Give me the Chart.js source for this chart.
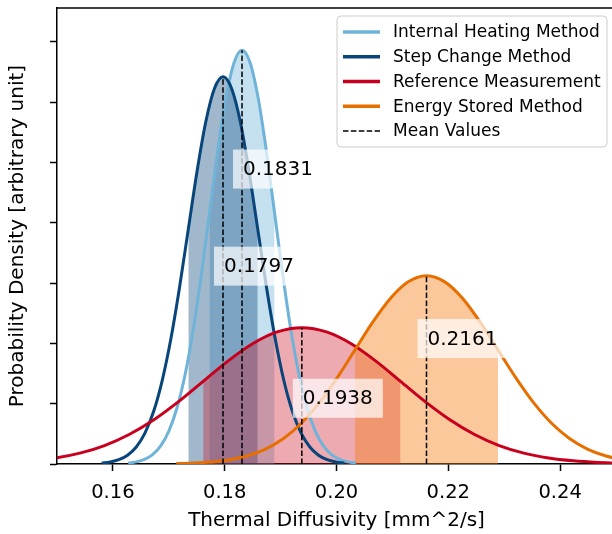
<!DOCTYPE html>
<html>
<head>
<meta charset="utf-8">
<script src="https://cdn.jsdelivr.net/npm/chart.js@4.4.1/dist/chart.umd.min.js"></script>
<style>
html, body { margin: 0; padding: 0; overflow: hidden; background: #fff; }
</style>
</head>
<body>
<canvas id="myChart-diffusivity" width="620" height="534"></canvas>
<script>
// methods, colours and means
const methods = ['Internal Heating Method', 'Step Change Method', 'Reference Measurement', 'Energy Stored Method'];
const lineColors = ['#6fb3d9', '#08457a', '#c8001e', '#e66f00'];
const fillColors = ['rgba(111,179,217,0.4)', 'rgba(8,69,122,0.38)', 'rgba(205,20,40,0.36)', 'rgba(245,125,20,0.42)'];
const means = [0.1831, 0.1797, 0.1938, 0.2161];
const meanLabels = ['0.1831', '0.1797', '0.1938', '0.2161'];
const labelHeights = [48.9, 32.8, 10.9, 20.8];

// shaded band (mean +/- one std)
const bandLow = [0.17728, 0.17349, 0.17615, 0.20331];
const bandHigh = [0.18892, 0.18591, 0.21145, 0.22889];

// curves
const xInternal = [0.16273, 0.16419, 0.16564, 0.16710, 0.16855, 0.17001, 0.17146, 0.17292, 0.17437, 0.17583,
  0.17728, 0.17874, 0.18019, 0.18165, 0.18310, 0.18456, 0.18601, 0.18747, 0.18892, 0.19038,
  0.19183, 0.19329, 0.19474, 0.19620, 0.19765, 0.19911, 0.20056, 0.20202, 0.20347];
const yInternal = [0.15, 0.35, 0.76, 1.56, 3.01, 5.46, 9.28, 14.84, 22.27, 31.41,
  41.61, 51.78, 60.54, 66.49, 68.6, 66.49, 60.54, 51.78, 41.61, 31.41,
  22.27, 14.84, 9.28, 5.46, 3.01, 1.56, 0.76, 0.35, 0.15];

const xStep = [0.15797, 0.15952, 0.16107, 0.16262, 0.16418, 0.16573, 0.16728, 0.16883, 0.17039, 0.17194,
  0.17349, 0.17504, 0.17660, 0.17815, 0.17970, 0.18125, 0.18281, 0.18436, 0.18591, 0.18746,
  0.18902, 0.19057, 0.19212, 0.19367, 0.19523, 0.19678, 0.19833, 0.19988, 0.20144];
const yStep = [0.14, 0.33, 0.71, 1.46, 2.82, 5.11, 8.69, 13.88, 20.84, 29.39,
  38.94, 48.46, 56.66, 62.22, 64.2, 62.22, 56.66, 48.46, 38.94, 29.39,
  20.84, 13.88, 8.69, 5.11, 2.82, 1.46, 0.71, 0.33, 0.14];

const xReference = [0.13203, 0.13644, 0.14085, 0.14526, 0.14968, 0.15409, 0.15850, 0.16291, 0.16733, 0.17174,
  0.17615, 0.18056, 0.18498, 0.18939, 0.19380, 0.19821, 0.20263, 0.20704, 0.21145, 0.21586,
  0.22028, 0.22469, 0.22910, 0.23351, 0.23793, 0.24234, 0.24675, 0.25116, 0.25558];
const yReference = [0.05, 0.11, 0.25, 0.52, 0.99, 1.80, 3.06, 4.89, 7.34, 10.35,
  13.71, 17.06, 19.94, 21.90, 22.6, 21.90, 19.94, 17.06, 13.71, 10.35,
  7.34, 4.89, 3.06, 1.80, 0.99, 0.52, 0.25, 0.11, 0.05];

const xEnergy = [0.17134, 0.17453, 0.17773, 0.18093, 0.18413, 0.18732, 0.19052, 0.19372, 0.19692, 0.20011,
  0.20331, 0.20651, 0.20971, 0.21290, 0.21610, 0.21930, 0.22250, 0.22569, 0.22889, 0.23209,
  0.23529, 0.23848, 0.24168, 0.24488, 0.24808, 0.25127, 0.25447, 0.25767, 0.26087];
const yEnergy = [0.07, 0.16, 0.35, 0.71, 1.37, 2.48, 4.22, 6.75, 10.13, 14.28,
  18.92, 23.55, 27.53, 30.24, 31.2, 30.24, 27.53, 23.55, 18.92, 14.28,
  10.13, 6.75, 4.22, 2.48, 1.37, 0.71, 0.35, 0.16, 0.07];

const xTicks = [0.16, 0.18, 0.20, 0.22, 0.24];
const yTicks = [0, 10, 20, 30, 40, 50, 60, 70];

const curvesX = [xInternal, xStep, xReference, xEnergy];
const curvesY = [yInternal, yStep, yReference, yEnergy];

Chart.defaults.font.family = "'DejaVu Sans', sans-serif";
Chart.defaults.color = '#000';

// fills under every line, later methods drawn over earlier ones
const datasets = [];
curvesX.forEach((xs, i) => {
  const pts = xs.map((x, j) => ({ x: x, y: curvesY[i][j] }));
  datasets.push({
    label: methods[i],
    data: pts,
    borderColor: lineColors[i],
    borderWidth: 3,
    pointRadius: 0,
    cubicInterpolationMode: 'monotone',
    fill: false,
    order: 10 - i
  });
  datasets.push({
    label: methods[i] + ' band',
    data: pts.filter(p => p.x >= bandLow[i] - 1e-7 && p.x <= bandHigh[i] + 1e-7),
    borderWidth: 0,
    borderColor: 'rgba(0,0,0,0)',
    backgroundColor: fillColors[i],
    pointRadius: 0,
    cubicInterpolationMode: 'monotone',
    fill: 'origin',
    order: 20 - i
  });
  datasets.push({
    label: 'Mean Values',
    data: [{ x: means[i], y: 0 }, { x: means[i], y: Math.max(...curvesY[i]) }],
    borderColor: '#000',
    borderWidth: 1.5,
    borderDash: [5.5, 2.4],
    pointRadius: 0,
    fill: false,
    order: 0
  });
});

// frame, mean labels and legend
const decorations = {
  id: 'decorations',
  afterDatasetsDraw(chart) {
    const ctx = chart.ctx;
    const a = chart.chartArea;
    const xs = chart.scales.x, ys = chart.scales.y;
    ctx.save();
    ctx.strokeStyle = '#000';
    ctx.lineWidth = 1.5;
    ctx.beginPath();
    ctx.moveTo(a.left, a.top);
    ctx.lineTo(a.right, a.top);
    ctx.lineTo(a.right, a.bottom);
    ctx.stroke();

    ctx.font = "20px 'DejaVu Sans'";
    ctx.textBaseline = 'middle';
    ctx.textAlign = 'left';
    means.forEach((m, i) => {
      const px = xs.getPixelForValue(m) + 1;
      const py = ys.getPixelForValue(labelHeights[i]);
      const w = ctx.measureText(meanLabels[i]).width;
      ctx.fillStyle = 'rgba(255,255,255,0.7)';
      ctx.fillRect(px - 10, py - 19.5, w + 20, 39);
      ctx.fillStyle = '#000';
      ctx.fillText(meanLabels[i], px, py + 1);
    });

    // legend box
    const lx = 337, ly = 16, lw = 270, lh = 131;
    ctx.beginPath();
    ctx.roundRect(lx, ly, lw, lh, 4);
    ctx.fillStyle = 'rgba(255,255,255,0.8)';
    ctx.fill();
    ctx.strokeStyle = '#cccccc';
    ctx.lineWidth = 1;
    ctx.stroke();
    const entries = methods.concat(['Mean Values']);
    ctx.font = "17px 'DejaVu Sans'";
    entries.forEach((name, i) => {
      const ry = 32 + i * 24.75;
      ctx.beginPath();
      ctx.moveTo(343, ry);
      ctx.lineTo(380, ry);
      if (i < methods.length) {
        ctx.strokeStyle = lineColors[i];
        ctx.lineWidth = 3.3;
        ctx.setLineDash([]);
      } else {
        ctx.strokeStyle = '#000';
        ctx.lineWidth = 1.5;
        ctx.setLineDash([5.5, 2.4]);
      }
      ctx.stroke();
      ctx.setLineDash([]);
      ctx.fillStyle = '#000';
      ctx.fillText(name, 393, ry + 1);
    });
    ctx.restore();
  }
};

const ctx1 = document.getElementById('myChart-diffusivity').getContext('2d');
const myChart1 = new Chart(ctx1, {
  type: 'line',
  data: { datasets: datasets },
  options: {
    responsive: false,
    animation: false,
    layout: { padding: { left: 0, right: 4, top: 8, bottom: 0 } },
    plugins: { legend: { display: false }, tooltip: { enabled: false } },
    scales: {
      x: {
        type: 'linear',
        min: 0.15,
        max: 0.25,
        afterBuildTicks: s => { s.ticks = xTicks.map(v => ({ value: v })); },
        afterFit: s => { s.height = 70; },
        ticks: {
          callback: v => v.toFixed(2),
          font: { size: 19.5 },
          padding: 10,
          maxRotation: 0
        },
        grid: { drawOnChartArea: false, drawTicks: true, tickLength: 7, color: '#000', tickWidth: 1.5 },
        border: { display: true, color: '#000', width: 1.5 },
        title: {
          display: true,
          text: 'Thermal Diffusivity [mm^2/s]',
          font: { size: 20 },
          padding: { top: 0, bottom: 1 }
        }
      },
      y: {
        min: 0,
        max: 75.6,
        afterBuildTicks: s => { s.ticks = yTicks.map(v => ({ value: v })); },
        afterFit: s => { s.width = 57; },
        ticks: { display: false },
        grid: { drawOnChartArea: false, drawTicks: true, tickLength: 7, color: '#000', tickWidth: 1.5 },
        border: { display: true, color: '#000', width: 1.5 },
        title: {
          display: true,
          text: 'Probability Density [arbitrary unit]',
          font: { size: 20 },
          padding: { top: 6, bottom: 0 }
        }
      }
    }
  },
  plugins: [decorations]
});
</script>
</body>
</html>
